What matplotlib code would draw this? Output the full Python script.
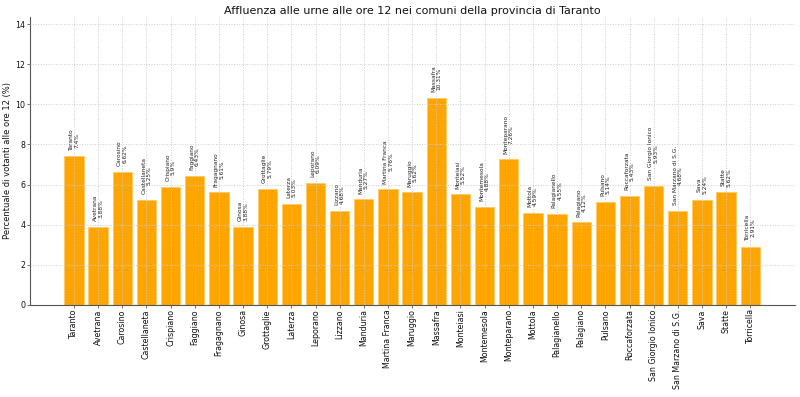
import matplotlib
matplotlib.use('Agg')
import matplotlib.pyplot as plt

# Dati affluenza ore 12
comuni = ['Taranto', 'Avetrana', 'Carosino', 'Castellaneta', 'Crispiano', 'Faggiano',
          'Fragagnano', 'Ginosa', 'Grottaglie', 'Laterza', 'Leporano', 'Lizzano',
          'Manduria', 'Martina Franca', 'Maruggio', 'Massafra', 'Monteiasi',
          'Montemesola', 'Monteparano', 'Mottola', 'Palagianello', 'Palagiano',
          'Pulsano', 'Roccaforzata', 'San Giorgio Ionico', 'San Marzano di S.G.',
          'Sava', 'Statte', 'Torricella']
affluenza = [7.4, 3.88, 6.62, 5.25, 5.9, 6.43, 5.61, 3.88, 5.79, 5.03, 6.09, 4.68,
             5.27, 5.76, 5.62, 10.31, 5.52, 4.88, 7.26, 4.59, 4.55, 4.12, 5.14,
             5.43, 5.93, 4.68, 5.24, 5.62, 2.91]

fig, ax = plt.subplots(figsize=(8, 3.97), dpi=100)
fig.subplots_adjust(left=0.0375, right=0.994, top=0.957, bottom=0.232)

x = range(len(comuni))
ax.bar(x, affluenza, width=0.8, color='#FFA500', edgecolor='#FFC966', linewidth=0.6)

# etichette sopra le barre
for i, (nome, v) in enumerate(zip(comuni, affluenza)):
    ax.text(i, v + 0.28, f'{nome}\n{v}%', rotation=90, ha='center', va='bottom',
            fontsize=4.2, color='#222222', linespacing=1.1)

ax.set_xticks(list(x))
ax.set_xticklabels(comuni, rotation=90, fontsize=5.7)
ax.tick_params(axis='y', labelsize=5.7)
ax.tick_params(axis='both', length=2.0, width=0.6, color='#555555', pad=1.2,
               labelcolor='#111111')
ax.set_xlim(-1.82, 29.86)
ax.set_ylim(0, 14.35)
ax.set_yticks([0, 2, 4, 6, 8, 10, 12, 14])

ax.set_title('Affluenza alle urne alle ore 12 nei comuni della provincia di Taranto',
             fontsize=8.05, color='#111111', pad=2.5)
ax.set_ylabel('Percentuale di votanti alle ore 12 (%)', fontsize=6.0, color='#111111',
              labelpad=2.5)

ax.grid(True, linestyle=':', color='#cccccc', linewidth=0.7)
ax.set_axisbelow(False)
for s in ['top', 'right']:
    ax.spines[s].set_visible(False)
for s in ['left', 'bottom']:
    ax.spines[s].set_color('#555555')

plt.savefig('out.png', dpi=100, facecolor='white')
